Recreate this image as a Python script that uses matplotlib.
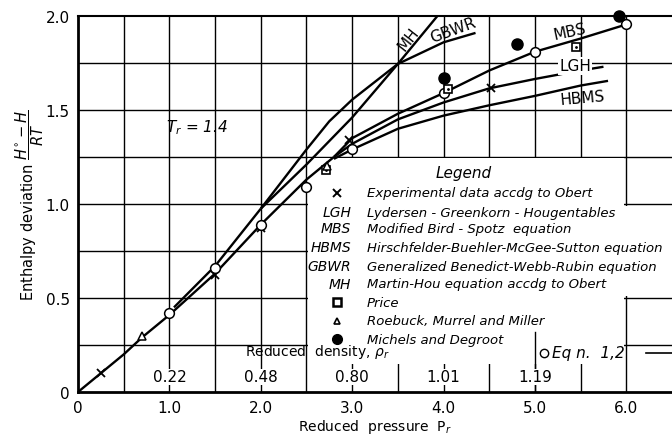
import matplotlib
matplotlib.use("Agg")
import matplotlib.pyplot as plt
from matplotlib.patches import Rectangle

# data (reduced pressure Pr, enthalpy deviation)
trunk_p = [0, 0.25, 0.5, 0.7, 1.0, 1.5, 2.0, 2.5, 2.8]
trunk_h = [0, 0.10, 0.20, 0.29, 0.41, 0.63, 0.89, 1.13, 1.25]

mbs_p = [2.8, 3.0, 3.5, 4.0, 4.5, 5.0, 5.5, 6.0]
mbs_h = [1.25, 1.35, 1.48, 1.59, 1.71, 1.81, 1.88, 1.955]

lgh_p = [2.8, 3.0, 3.5, 4.0, 4.5, 5.0, 5.5, 5.75]
lgh_h = [1.25, 1.32, 1.45, 1.54, 1.615, 1.665, 1.71, 1.73]

hbms_p = [2.8, 3.0, 3.5, 4.0, 4.5, 5.0, 5.5, 5.8]
hbms_h = [1.24, 1.29, 1.40, 1.47, 1.525, 1.575, 1.63, 1.655]

upper_p = [1.05, 1.5, 2.0]
upper_h = [0.45, 0.67, 0.975]

gbwr_p = [2.0, 2.5, 2.75, 3.0, 3.5, 4.0, 4.35]
gbwr_h = [0.975, 1.29, 1.44, 1.555, 1.745, 1.86, 1.91]

mh_p = [2.0, 2.5, 3.0, 3.5, 3.95]
mh_h = [0.975, 1.21, 1.46, 1.745, 2.01]

# experimental / literature points
obert_p = [0.25, 1.5, 2.0, 2.97, 4.52]
obert_h = [0.10, 0.62, 0.87, 1.34, 1.615]

eqn_p = [1.0, 1.5, 2.0, 2.5, 3.0, 4.0, 5.0, 6.0]
eqn_h = [0.42, 0.66, 0.89, 1.09, 1.29, 1.59, 1.81, 1.96]

price_p = [2.71, 4.05, 5.45]
price_h = [1.18, 1.61, 1.835]

roebuck_p = [0.7, 2.72]
roebuck_h = [0.30, 1.20]

michels_p = [4.0, 4.8, 5.92]
michels_h = [1.67, 1.85, 2.0]

density_p = [1.0, 2.0, 3.0, 4.0, 5.0]
density_labels = ["0.22", "0.48", "0.80", "1.01", "1.19"]

legend_abbr = ["LGH", "MBS", "HBMS", "GBWR", "MH"]
legend_rows = ["Experimental data accdg to Obert",
               "Lydersen - Greenkorn - Hougentables",
               "Modified Bird - Spotz  equation",
               "Hirschfelder-Buehler-McGee-Sutton equation",
               "Generalized Benedict-Webb-Rubin equation",
               "Martin-Hou equation accdg to Obert",
               "Price",
               "Roebuck, Murrel and Miller",
               "Michels and Degroot"]
legend_y = [1.06, 0.955, 0.87, 0.77, 0.67, 0.575, 0.477, 0.38, 0.28]

fig = plt.figure(figsize=(6.72, 4.39), dpi=100)
ax = fig.add_axes([0.1161, 0.1048, 0.8839, 0.8565])
ax.set_xlim(0, 6.5)
ax.set_ylim(0, 2.0)

# grid
for gx in [0.5, 1.0, 1.5, 2.0, 2.5, 3.0, 3.5, 4.0, 4.5, 5.0, 5.5, 6.0]:
    ax.axvline(gx, color="black", lw=1.0, zorder=0)
for gy in [0.25, 0.5, 0.75, 1.0, 1.25, 1.5, 1.75]:
    ax.axhline(gy, color="black", lw=1.0, zorder=0)

# white area behind the legend text
ax.add_patch(Rectangle((2.52, 0.15), 3.46, 1.095, facecolor="white", edgecolor="none", zorder=1))
ax.add_patch(Rectangle((5.98, 0.51), 0.6, 0.48, facecolor="white", edgecolor="none", zorder=1))
ax.plot([5.0, 5.0], [0, 0.32], color="black", lw=1.0, zorder=1)

# curves
lw = 1.7
for p, h in [(trunk_p, trunk_h), (mbs_p, mbs_h), (lgh_p, lgh_h), (hbms_p, hbms_h),
             (upper_p, upper_h), (gbwr_p, gbwr_h), (mh_p, mh_h)]:
    ax.plot(p, h, color="black", lw=lw, zorder=3, solid_capstyle="butt")

# points
ax.plot(obert_p, obert_h, "x", color="black", ms=6, mew=1.3, zorder=4)
ax.plot(eqn_p, eqn_h, "o", mfc="white", mec="black", ms=7, mew=1.1, zorder=5)
ax.plot(price_p, price_h, "s", mfc="white", mec="black", ms=6, mew=1.2, zorder=5)
ax.plot(price_p, price_h, ".", color="black", ms=2, zorder=6)
ax.plot(roebuck_p, roebuck_h, "^", mfc="white", mec="black", ms=6, mew=1.1, zorder=6)
ax.plot(michels_p, michels_h, "o", color="black", ms=8, zorder=5, clip_on=False)

# curve labels
ax.text(3.62, 1.88, "MH", rotation=52, fontsize=11, ha="center", va="center", zorder=6)
ax.text(4.1, 1.93, "GBWR", rotation=20, fontsize=11, ha="center", va="center", zorder=6)
ax.text(5.38, 1.92, "MBS", rotation=12, fontsize=11, ha="center", va="center", zorder=6)
ax.text(5.44, 1.735, "LGH", fontsize=11, ha="center", va="center", zorder=6,
        bbox=dict(facecolor="white", edgecolor="none", pad=1))
ax.text(5.52, 1.565, "HBMS", rotation=5, fontsize=11, ha="center", va="center", zorder=6)

ax.text(1.3, 1.41, r"$T_r$ = 1.4", fontsize=11, style="italic", ha="center", va="center")

# legend
ax.text(4.22, 1.17, "Legend", fontsize=11, style="italic", ha="center", va="center", zorder=6)
ax.plot([2.83], [legend_y[0]], "x", color="black", ms=6, mew=1.4, zorder=6)
for i, abbr in enumerate(legend_abbr):
    ax.text(2.99, legend_y[i + 1], abbr, fontsize=10, style="italic", ha="right", va="center", zorder=6)
ax.plot([2.83], [legend_y[6]], "s", mfc="white", mec="black", ms=6, mew=1.8, zorder=6)
ax.plot([2.83], [legend_y[7]], "^", mfc="white", mec="black", ms=5, mew=1.2, zorder=6)
ax.plot([2.83], [legend_y[8]], "o", color="black", ms=7, zorder=6)
for row, yy in zip(legend_rows, legend_y):
    ax.text(3.16, yy, row, fontsize=9.5, style="italic", ha="left", va="center", zorder=6)

ax.plot([5.1], [0.21], "o", mfc="white", mec="black", ms=6, mew=1.0, zorder=6)
ax.text(5.19, 0.21, "Eq n.  1,2", fontsize=11, style="italic", ha="left", va="center", zorder=6)
ax.plot([6.22, 6.5], [0.205, 0.205], color="black", lw=1.2, zorder=6, clip_on=False)

# reduced density scale
ax.text(2.62, 0.22, r"Reduced  density, $\rho_r$", fontsize=10, ha="center", va="center", zorder=6)
for dp, dl in zip(density_p, density_labels):
    ax.text(dp, 0.08, dl, fontsize=11, ha="center", va="center", zorder=6,
            bbox=dict(facecolor="white", edgecolor="none", pad=0.5))

# axes styling
ax.set_xticks([0, 1, 2, 3, 4, 5, 6])
ax.set_xticklabels(["0", "1.0", "2.0", "3.0", "4.0", "5.0", "6.0"])
ax.set_yticks([0, 0.5, 1.0, 1.5, 2.0])
ax.set_yticklabels(["0", "0.5", "1.0", "1.5", "2.0"])
ax.tick_params(length=0, labelsize=11, pad=6)
ax.spines["right"].set_visible(False)
ax.spines["left"].set_linewidth(2)
ax.spines["bottom"].set_linewidth(2)
ax.spines["top"].set_linewidth(1.5)

ax.set_xlabel(r"Reduced  pressure  P$_r$", fontsize=10, labelpad=1)
ax.set_ylabel(r"Enthalpy deviation $\dfrac{H^{\circ}-H}{RT}$", fontsize=10.5, labelpad=0)

fig.savefig("out.png", dpi=100)
